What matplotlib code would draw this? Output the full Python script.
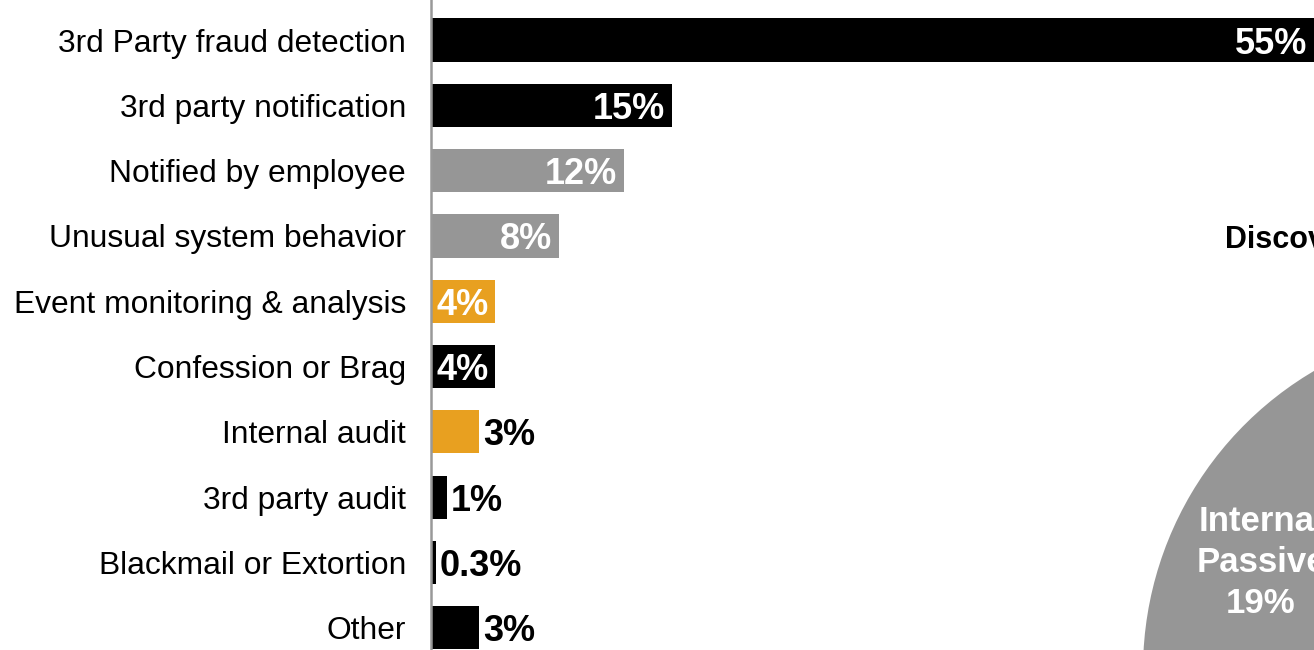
import matplotlib
matplotlib.use("Agg")
import matplotlib.pyplot as plt

plt.rcParams['font.family'] = ['Liberation Sans', 'DejaVu Sans']

# detection methods, top to bottom
methods = [
    "3rd Party fraud detection",
    "3rd party notification",
    "Notified by employee",
    "Unusual system behavior",
    "Event monitoring & analysis",
    "Confession or Brag",
    "Internal audit",
    "3rd party audit",
    "Blackmail or Extortion",
    "Other",
]
shares = [55, 15, 12, 8, 4, 4, 3, 1, 0.3, 3]
groups = ["ext", "ext", "passive", "passive", "active", "ext", "active", "ext", "ext", "ext"]

# summary pie
pie_names = ["Internal\nActive", "Internal\nPassive", "External"]
pie_shares = [7, 19, 74]
pie_keys = ["active", "passive", "ext"]

palette = {"ext": "#000000", "passive": "#969696", "active": "#E8A020"}

W, H = 1314, 650
fig = plt.figure(figsize=(W / 100, H / 100), dpi=100)

# bar chart
ax = fig.add_axes([431 / W, 0, 1 - 431 / W, 1])
ypos = list(range(len(methods)))
bars = ax.barh(ypos, shares, height=0.66,
               color=[palette[g] for g in groups])
ax.set_xlim(0, 55)
ax.set_ylim(9.34, -0.613)
ax.set_yticks(ypos)
ax.set_yticklabels(methods, fontsize=22.9)
ax.tick_params(axis='y', length=0, pad=18)
ax.set_xticks([])
for side in ["top", "right", "bottom"]:
    ax.spines[side].set_visible(False)
ax.spines["left"].set_color("#999999")
ax.spines["left"].set_linewidth(1.8)

for b, v in zip(bars, shares):
    txt = f"{v:g}%"
    yc = b.get_y() + b.get_height() / 2
    if v > 3:
        ax.annotate(txt, (v, yc), xytext=(-5, 0), textcoords="offset points",
                    ha="right", va="center_baseline", color="white",
                    fontsize=26, fontweight="bold")
    else:
        ax.annotate(txt, (v, yc), xytext=(3, 0), textcoords="offset points",
                    ha="left", va="center_baseline", color="black",
                    fontsize=26, fontweight="bold")

# pie, mostly outside the canvas on the right
cx, cy, r = 1490, 670, 347
pax = fig.add_axes([(cx - r) / W, (H - cy - r) / H, 2 * r / W, 2 * r / H])
pie_labels = [f"{n}\n{v}%" for n, v in zip(pie_names, pie_shares)]
wedges, texts = pax.pie(pie_shares, labels=pie_labels,
                        colors=[palette[k] for k in pie_keys],
                        startangle=90, counterclock=True, labeldistance=0.74,
                        textprops=dict(ha="center", va="center", color="white",
                                       fontsize=25, fontweight="bold",
                                       linespacing=1.3))
# nudge the passive label down-left inside its wedge
texts[1].set_position((-0.66, 0.31))
pax.set_xlim(-1, 1)
pax.set_ylim(-1, 1)
pax.set_aspect("auto")

fig.text(1225 / W, 1 - 240 / H, "Discovery Method", ha="left", va="center",
         fontsize=22, fontweight="bold", color="black")

fig.savefig("out.png", dpi=100)
